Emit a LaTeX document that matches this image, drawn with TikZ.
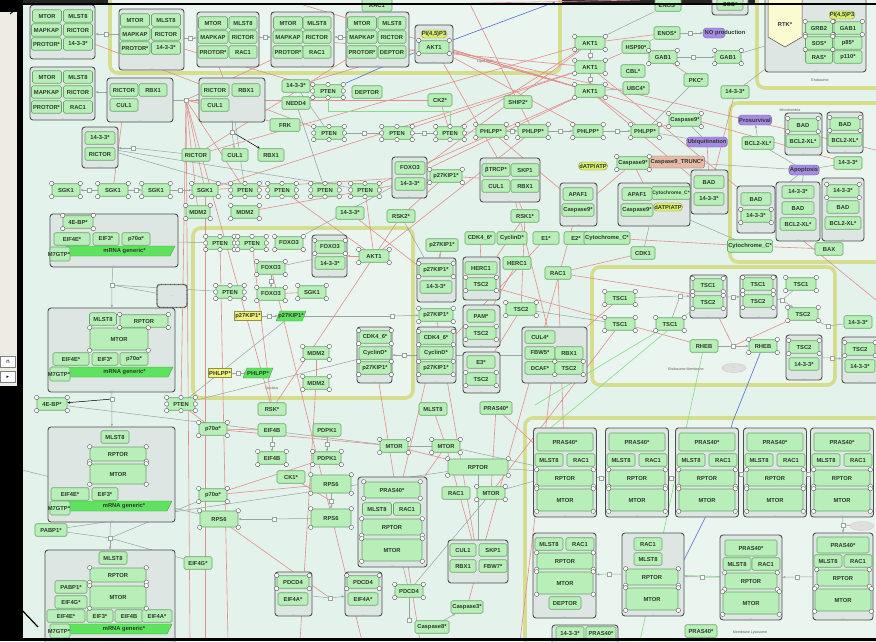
\documentclass[tikz,border=0pt]{standalone}
\usepackage{fontspec}
\usetikzlibrary{arrows.meta,shapes.geometric}
\newfontfamily\lsans{Liberation Sans}
\newfontfamily\dejavu{DejaVu Sans}
\newcommand\nfont{\lsans\bfseries\fontsize{5.8}{6.6}\selectfont}
\newcommand\smfont{\lsans\bfseries\fontsize{5}{6}\selectfont}
\newcommand\tinyf{\lsans\fontsize{3.6}{4}\selectfont}
\definecolor{bgm}{HTML}{E3F2EA}
\definecolor{cmpf}{HTML}{E9F5EE}
\definecolor{cmpd}{HTML}{D4DE8E}
\definecolor{gnf}{HTML}{B8EFB8}
\definecolor{gnd}{HTML}{6CA46C}
\definecolor{cxf}{HTML}{DDE6E2}
\definecolor{cxd}{HTML}{4F4F4F}
\definecolor{redl}{HTML}{E38E8C}
\definecolor{grl}{HTML}{9AA39F}
\definecolor{grnl}{HTML}{84DE84}
\definecolor{blul}{HTML}{4E6ED8}
\definecolor{purp}{HTML}{A78AE6}
\definecolor{ylw}{HTML}{DDEE6E}
\definecolor{ylb}{HTML}{F3F07C}
\definecolor{mrn}{HTML}{5DE35D}
\definecolor{salm}{HTML}{E6B9A8}
\definecolor{txtc}{HTML}{2C382C}
\definecolor{strip}{HTML}{EEEBE2}
\pgfdeclarelayer{bg}
\pgfdeclarelayer{edges}
\pgfsetlayers{bg,edges,main}
\tikzset{
 gnode/.style={draw=gnd,fill=gnf,rounded corners=1.5pt,line width=0.6pt,minimum height=12.5pt,inner sep=0.8pt,font=\nfont,text=txtc},
 txtn/.style={font=\nfont,text=txtc,inner sep=0.5pt},
 dotl/.style={anchor=south,inner sep=0.5pt,font=\tinyf,text=gray},
 cplxb/.style={draw=cxd,fill=cxf,line width=0.9pt,rounded corners=3pt,inner sep=0pt},
 cplx/.style={cplxb,label={[dotl]south:...}},
 comp/.style={draw=cmpd,fill=cmpf,line width=3.6pt,rounded corners=8pt,inner sep=0pt},
 clab/.style={font=\tinyf,text=gray!70!black,inner sep=0.5pt},
 proc/.style={fill=purp,draw=purp!70!black,line width=0.4pt,rounded corners=3.5pt,font=\nfont,text=txtc,inner sep=1pt,minimum height=10pt},
 yell/.style={fill=ylw,draw=ylw!60!black,line width=0.3pt,rounded corners=3.5pt,font=\nfont,text=txtc,inner sep=0.6pt,minimum height=8pt},
 ybox/.style={fill=ylb,draw=ylb!60!black,line width=0.3pt,font=\nfont,text=txtc,inner sep=0.8pt,minimum height=9pt},
 salmb/.style={fill=salm,draw=salm!60!black,line width=0.4pt,rounded corners=1.5pt,font=\nfont,text=txtc,inner sep=1pt,minimum height=12pt},
 dotel/.style={ellipse,fill=gray!25,draw=gray!40,minimum width=24pt,minimum height=9pt,inner sep=0pt,font=\tinyf,text=gray},
 dotbox/.style={draw=cxd,fill=cxf,line width=1.3pt,dash pattern=on 0.8pt off 0.5pt,rounded corners=3pt,font=\tinyf,text=gray},
 psq/.style={draw=grl,fill=white,line width=0.4pt,minimum size=4pt,inner sep=0pt},
 svc/.style={draw=gray!60!black,fill=white,line width=0.35pt},
 rl/.style={draw=redl,line width=0.6pt},
 gl/.style={draw=grl,line width=0.5pt},
 grn/.style={draw=grnl,line width=0.6pt},
 blu/.style={draw=blul,line width=0.6pt},
 >={Stealth[length=3pt,width=2.4pt]},
}
\newcommand\gn[5]{\node[gnode,minimum width=#4pt] (#1) at (#2,#3) {#5};}
\newcommand\gh[6]{\node[gnode,minimum width=#4pt,minimum height=#5pt] (#1) at (#2,#3) {#6};}
\newcommand\cpx[5]{\node[cplx,minimum width={(#4-#2)*1pt},minimum height={(#5-#3)*1pt}] (#1) at ({(#2+#4)/2},{(#3+#5)/2}) {};}
\newcommand\cpxn[5]{\node[cplxb,minimum width={(#4-#2)*1pt},minimum height={(#5-#3)*1pt}] (#1) at ({(#2+#4)/2},{(#3+#5)/2}) {};}
\newcommand\cmpt[5]{\node[comp,minimum width={(#4-#2)*1pt},minimum height={(#5-#3)*1pt}] (#1) at ({(#2+#4)/2},{(#3+#5)/2}) {};}
\newcommand\mrna[4]{\fill[mrn,draw=mrn!70!black,line width=0.3pt] (#2,#4-5) -- (#3,#4-5) -- (#3-5,#4+5) -- (#2,#4+5) -- cycle;
 \node[txtn] (#1) at ({(#2+#3)/2+4},#4) {mRNA generic*};}
\newcommand\mgtp[3]{\node[gnode,minimum width=20pt,minimum height=14pt] (#1) at (#2,#3) {};\node[txtn] (#1t) at (#2-1,#3) {M7GTP*};}
\newcommand\pgram[4]{\fill[mrn,draw=mrn!70!black,line width=0.3pt] (#2-15,#3+5) -- (#2+11,#3+5) -- (#2+15,#3-5) -- (#2-11,#3-5) -- cycle;
 \node[txtn] (#1) at (#2,#3) {#4};}
\newcommand\lyA[2]{\node[cplx,minimum width=63pt,minimum height=89pt] (#1) at (#2,472.5) {};
 \gh{#1a}{#2}{442}{56}{18}{PRAS40*}\gn{#1b}{#2-16}{460}{28}{MLST8}\gn{#1c}{#2+16}{460}{28}{RAC1}\gh{#1d}{#2}{478}{56}{16}{RPTOR}\gh{#1e}{#2}{500}{56}{22}{MTOR}}
\begin{document}
\begin{tikzpicture}[x=1pt,y=-1pt]
\useasboundingbox (0,0) rectangle (876,641);
\begin{pgfonlayer}{bg}
\fill[black] (0,0) rectangle (22,641);
\fill[strip] (0,12) rectangle (17,386);
\fill[bgm] (22,4) rectangle (876,641);
\fill[black!85] (22,0) rectangle (876,4);
\cmpt{lipid}{110}{-12}{560}{73}
\cmpt{endo}{757}{-12}{886}{88}
\cmpt{mito}{730}{103}{886}{262}
\cmpt{nucl}{193}{228}{413}{398}
\cmpt{endm}{592}{267}{835}{385}
\cmpt{lyso}{525}{418}{886}{652}
\node[clab] (lb1) at (485,62) {Lipid Raft};
\node[clab] (lb2) at (820,80) {Endosome};
\node[clab] (lb3) at (790,110) {Mitochondria};
\node[clab] (lb4) at (272,388) {Nucleus};
\node[clab] (lb5) at (686,369) {Endosome Membrane};
\node[clab] (lb6) at (750,633) {Membrane Lysosome};
\end{pgfonlayer}
% left strip
\node[draw=gray,fill=white,minimum width=15pt,minimum height=11pt,inner sep=0pt,font=\lsans\fontsize{6}{6}\selectfont] (lsn) at (8,362) {n};
\node[draw=gray,fill=white,minimum width=15pt,minimum height=11pt,inner sep=0pt,font=\dejavu\fontsize{5}{5}\selectfont] (lsa) at (8,377) {▸};
% ===== top row complexes
\cpx{kA}{30}{5}{95}{59}
\gn{A1}{47}{16}{29}{MTOR}\gn{A2}{78}{16}{29}{MLST8}\gn{A3}{46.5}{30}{30}{MAPKAP}\gn{A4}{78}{30}{29}{RICTOR}\gn{A5}{46.5}{44}{30}{PROTOR*}\gn{A6}{78}{44}{29}{14-3-3*}
\cpx{kB}{119}{9}{184}{70}
\gn{B1}{135}{20}{29}{MTOR}\gn{B2}{166}{20}{29}{MLST8}\gn{B3}{135}{34}{30}{MAPKAP}\gn{B4}{166}{34}{29}{RICTOR}\gn{B5}{135}{48}{30}{PROTOR*}\gn{B6}{166}{48}{29}{14-3-3*}
\cpx{kC}{197}{12}{259}{67}
\gn{C1}{213}{23}{29}{MTOR}\gn{C2}{243}{23}{28}{MLST8}\gn{C3}{213}{37}{30}{MAPKAP}\gn{C4}{243}{37}{28}{RICTOR}\gn{C5}{213}{52}{30}{PROTOR*}\gn{C6}{243}{52}{28}{RAC1}
\cpx{kD}{271}{12}{334}{67}
\gn{D1}{288}{23}{29}{MTOR}\gn{D2}{317}{23}{28}{MLST8}\gn{D3}{288}{37}{30}{MAPKAP}\gn{D4}{317}{37}{28}{RICTOR}\gn{D5}{288}{52}{30}{PROTOR*}\gn{D6}{317}{52}{28}{RAC1}
\cpx{kE}{346}{12}{409}{67}
\gn{E1}{362}{23}{29}{MTOR}\gn{E2}{392}{23}{28}{MLST8}\gn{E3}{362}{37}{30}{MAPKAP}\gn{E4}{392}{37}{28}{RICTOR}\gn{E5}{362}{52}{30}{PROTOR*}\gn{E6}{392}{52}{28}{DEPTOR}
\gn{racT}{377}{5}{30}{RAC1}
\cpx{kF}{415}{25}{453}{63}
\node[yell] (pipF) at (434,34) {PI(4,5)P3};
\gn{akF}{434}{47}{30}{AKT1}
% ===== right top
\gn{akt1a}{590}{43}{30}{AKT1}\gn{akt1b}{590}{67}{30}{AKT1}\gn{akt1c}{590}{91}{30}{AKT1}
\gn{hsp}{636}{47}{28}{HSP90*}\gn{cbl}{633}{71}{24}{CBL*}\gn{ubc}{636}{88}{26}{UBC4*}
\gn{enos0}{668}{5}{26}{ENOS*}
\cpx{kSOS}{712}{-8}{748}{15}\gn{sos0}{730}{4}{26}{SOS*}
\gn{enos}{667}{33}{26}{ENOS*}
\node[proc,minimum width=22pt] (nopb) at (714,33) {};
\node[txtn] (nopt) at (725,33) {NO production};
\gn{gab1a}{663}{57}{28}{GAB1}\gn{gab1b}{728}{57}{26}{GAB1}\gn{pkc}{696}{80}{24}{PKC*}\gn{t33a}{735}{92}{28}{14-3-3*}
% endosome
\cpx{kP}{765}{-10}{866}{72}
\filldraw[fill=ylb!35!white,draw=gray!60!black,line width=0.5pt] (768,-6) -- (802,-6) -- (802,37) -- (785,47) -- (768,37) -- cycle;
\node[txtn] (rtk) at (785,24) {RTK*};
\gn{grb2}{819}{28}{27}{GRB2}\gn{gab1c}{848}{28}{28}{GAB1}\gn{sosP}{819}{43}{27}{SOS*}\gn{p85}{848}{43}{28}{p85*}\gn{ras}{819}{57}{27}{RAS*}\gn{p110}{848}{57}{28}{p110*}
\node[yell] (pipP) at (842,15) {PI(4,5)P3};
% mitochondria
\node[proc] (prosv) at (755,120) {Prosurvival};
\gn{bclA}{758}{143}{32}{BCL2-XL*}
\cpx{kQ}{785}{113}{822}{155}\gn{badQ}{803}{125}{30}{BAD}\gn{bclQ}{803}{141}{34}{BCL2-XL*}
\cpx{kR}{827}{112}{863}{153}\gn{badR}{845}{124}{30}{BAD}\gn{bclR}{845}{140}{34}{BCL2-XL*}
\gn{t33m}{848}{163}{28}{14-3-3*}
\node[proc] (apop) at (804,170) {Apoptosis};
\cpx{kS}{737}{186}{775}{233}\gn{badS}{756}{199}{30}{BAD}\gn{t33S}{756}{216}{30}{14-3-3*}
\cpx{kT}{776}{182}{820}{241}\gn{t33T}{798}{192}{32}{14-3-3*}\gn{badT}{798}{208}{32}{BAD}\gn{bclT}{798}{224}{36}{BCL2-XL*}
\cpx{kU}{822}{178}{864}{241}\gn{t33U}{843}{191}{32}{14-3-3*}\gn{badU}{843}{207}{32}{BAD}\gn{bclU}{843}{223}{36}{BCL2-XL*}
\gn{cytm}{750}{246}{44}{Cytochrome\_C*}\gn{bax}{829}{249}{28}{BAX}
% middle right
\node[proc] (ubiq) at (707,142) {Ubiquitination};
\gn{casp9a}{685}{120}{32}{Caspase9*}
\node[salmb,minimum width=36pt] (c9tr) at (677,162) {Caspase9\_TRUNC*};
\gn{casp9b}{633}{163}{32}{Caspase9*}
\node[yell] (datp1) at (593,166) {dATP/ATP};
\cpx{kN}{560}{183}{597}{226}\gn{apafN}{578}{194}{30}{APAF1}\gn{c9N}{578}{210}{32}{Caspase9*}
\cpx{kO}{618}{183}{690}{226}\node[gnode,font=\smfont,minimum width=36pt] (cytO) at (671,193) {Cytochrome\_C*};
\gn{apafO}{637}{194}{30}{APAF1}\gn{c9O}{637}{210}{32}{Caspase9*}
\node[yell] (datp2) at (668,207) {dATP/ATP};
\cpx{kM}{691}{170}{728}{214}\gn{badM}{709}{182}{30}{BAD}\gn{t33M}{709}{199}{30}{14-3-3*}
% ===== left second row
\cpx{kG}{30}{67}{95}{120}
\gn{G1}{47}{77}{29}{MTOR}\gn{G2}{78}{77}{29}{MLST8}\gn{G3}{46.5}{92}{30}{MAPKAP}\gn{G4}{78}{92}{29}{RICTOR}\gn{G5}{46.5}{107}{30}{PROTOR*}\gn{G6}{78}{107}{29}{RAC1}
\cpx{kH}{107}{78}{173}{122}\gn{H1}{124}{90}{28}{RICTOR}\gn{H2}{153}{90}{28}{RBX1}\gn{H3}{124}{105}{28}{CUL1}
\cpx{kI}{199}{78}{265}{122}\gn{I1}{215}{90}{28}{RICTOR}\gn{I2}{246}{90}{28}{RBX1}\gn{I3}{215}{105}{28}{CUL1}
\cpx{kJ}{82}{127}{118}{168}\gn{J1}{100}{138}{30}{14-3-3*}\gn{J2}{100}{154}{30}{RICTOR}
\gn{ric5}{196}{155}{28}{RICTOR}
\gn{sgk1}{66}{190}{28}{SGK1}\gn{sgk2}{113}{190}{30}{SGK1}\gn{sgk3}{156}{190}{28}{SGK1}\gn{sgk4}{205}{190}{26}{SGK1}
\gn{mdm2a}{198}{212}{24}{MDM2}\gn{mdm2b}{245}{212}{28}{MDM2}
% ===== middle top
\gn{t33b}{296}{86}{28}{14-3-3*}\gn{pten1}{328}{91}{30}{PTEN}\gn{deptor}{367}{92}{30}{DEPTOR}
\gn{nedd4}{296}{103}{28}{NEDD4}\gn{frk}{285}{125}{30}{FRK}\gn{cul1b}{235}{155}{26}{CUL1}\gn{rbx1b}{271}{155}{26}{RBX1}
\gn{pten2}{329}{133}{30}{PTEN}\gn{pten3}{397}{133}{30}{PTEN}\gn{pten4}{450}{133}{28}{PTEN}
\gn{pten5}{245}{190}{28}{PTEN}\gn{pten6}{282}{190}{28}{PTEN}\gn{pten7}{325}{190}{28}{PTEN}\gn{pten8}{365}{190}{28}{PTEN}
\cpx{kK}{392}{157}{427}{198}\gn{foxK}{410}{168}{30}{FOXO3}\gn{t33K}{410}{184}{30}{14-3-3*}
\gn{t33c}{350}{213}{28}{14-3-3*}
\gn{ck2}{440}{100}{24}{CK2*}\gn{ship2}{518}{102}{28}{SHIP2*}
\gn{phl1}{491}{131}{30}{PHLPP*}\gn{phl2}{533}{131}{30}{PHLPP*}\gn{phl3}{588}{131}{30}{PHLPP*}\gn{phl4}{645}{131}{28}{PHLPP*}
\gn{p27a}{446}{176}{32}{p27KIP1*}
\cpx{kL}{480}{158}{540}{202}\gn{btrcp}{496}{170}{28}{βTRCP*}\gn{skp1a}{525}{170}{28}{SKP1}\gn{cul1c}{496}{186}{28}{CUL1}\gn{rbx1c}{525}{186}{28}{RBX1}
\gn{rsk2}{401}{216}{28}{RSK2*}\gn{rsk1}{525}{216}{28}{RSK1*}
\gn{cdk46a}{480}{238}{30}{CDK4\_6*}\gn{cycDa}{512}{238}{30}{CyclinD*}\gn{e1n}{546}{238}{26}{E1*}\gn{e2n}{576}{238}{24}{E2*}\gn{cytE}{607}{238}{46}{Cytochrome\_C*}
\gn{cdk1}{643}{253}{24}{CDK1}\gn{p27b}{442}{245}{32}{p27KIP1*}
% ===== left middle
\cpx{kV}{50}{214}{178}{267}
\gn{ebp1}{78}{222}{30}{4E-BP*}\gn{eif4eV}{72}{239}{36}{EIF4E*}\gn{eif3V}{106}{239}{26}{EIF3*}\gn{p70V}{136}{239}{28}{p70α*}
\mrna{mrV}{66}{175}{251}\mgtp{m7V}{60}{254}
\node[dotbox,minimum width=30pt,minimum height=23pt] (cdots) at (172,296) {...};
\cpx{kC9}{48}{308}{175}{392}
\gn{mlC9}{103}{319}{27}{MLST8}\gn{rpC9}{144}{321}{48}{RPTOR}\gh{mtC9}{119}{339}{58}{22}{MTOR}
\gn{eeC9}{71}{359}{36}{EIF4E*}\gn{e3C9}{105}{359}{26}{EIF3*}\gn{p7C9}{134}{359}{28}{p70α*}
\mrna{mrC9}{68}{173}{372}\mgtp{m7C9}{60}{374}
\gn{ebp2}{52}{404}{30}{4E-BP*}\gn{pten9}{181}{404}{28}{PTEN}
\cpx{kC14}{48}{427}{175}{522}
\gn{mlC14}{115}{437}{28}{MLST8}\gh{rpC14}{118}{454}{56}{14}{RPTOR}\gh{mtC14}{118}{474}{56}{20}{MTOR}
\gn{eeC14}{70}{494}{38}{EIF4E*}\gn{e3C14}{105}{494}{26}{EIF3*}
\mrna{mrC14}{68}{172}{506}\mgtp{m7C14}{60}{508}
\gn{pabp1}{51}{530}{32}{PABP1*}\gn{eif4g}{198}{563}{28}{EIF4G*}
\cpxn{kC15}{45}{550}{175}{648}
\gn{mlC15}{113}{558}{28}{MLST8}\gh{rpC15}{118}{575}{56}{14}{RPTOR}\gh{mtC15}{118}{597}{56}{22}{MTOR}
\gn{paC15}{71}{587}{32}{PABP1*}\gn{egC15}{71}{602}{32}{EIF4G*}
\gn{eeC15}{66}{616}{38}{EIF4E*}\gn{e3C15}{100}{616}{26}{EIF3*}\gn{ebC15}{129}{616}{28}{EIF4B}\gn{eaC15}{157}{616}{30}{EIF4A*}
\mrna{mrC15}{68}{172}{629}\mgtp{m7C15}{60}{631}
% ===== nucleus
\gn{pten10}{220}{243}{28}{PTEN}\gn{pten11}{252}{243}{28}{PTEN}\gn{foxN1}{289}{243}{28}{FOXO3}
\cpx{kW}{312}{235}{347}{277}\gn{foxW}{330}{247}{30}{FOXO3}\gn{t33W}{330}{263}{30}{14-3-3*}
\gn{akN}{374}{256}{30}{AKT1}\gn{foxN2}{271}{268}{28}{FOXO3}
\gn{pten12}{230}{292}{28}{PTEN}\gn{foxN3}{271}{294}{28}{FOXO3}\gn{sgkN}{312}{292}{28}{SGK1}
\node[ybox] (p27y) at (248,316) {p27KIP1*};
\pgram{p27g}{291}{316}{p27KIP1*}
\gn{mdmN1}{316}{353}{26}{MDM2}\gn{mdmN2}{316}{383}{26}{MDM2}
\cpx{kX}{357}{327}{392}{383}\gn{cdkX}{375}{337}{32}{CDK4\_6*}\gn{cycX}{375}{353}{32}{CyclinD*}\gn{p27X}{375}{368}{32}{p27KIP1*}
\node[ybox] (phlY) at (220,373) {PHLPP*};
\pgram{phlG}{258}{373}{PHLPP*}
% ===== right of nucleus
\cpx{kY}{417}{258}{456}{302}\gn{p27Y}{436}{270}{34}{p27KIP1*}\gn{t33Y}{436}{287}{32}{14-3-3*}
\gn{p27c}{436}{315}{34}{p27KIP1*}
\cpx{kZ}{417}{327}{456}{383}\gn{cdkZ}{436}{338}{34}{CDK4\_6*}\gn{cycZ}{436}{353}{34}{CyclinD*}\gn{p27Z}{436}{368}{34}{p27KIP1*}
\gn{mlst8N}{433}{409}{28}{MLST8}
\cpx{kH1}{463}{257}{500}{300}\gn{herc1a}{481}{268}{32}{HERC1}\gn{tsc2a}{481}{284}{30}{TSC2}
\gn{herc1b}{517}{263}{28}{HERC1}\gn{rac1c}{558}{273}{26}{RAC1}
\cpx{kPam}{463}{305}{500}{347}\gn{pam}{481}{316}{28}{PAM*}\gn{tsc2b}{481}{333}{30}{TSC2}
\gn{tsc2c}{521}{309}{30}{TSC2}
\cpx{kE3}{463}{352}{500}{393}\gn{e3n}{481}{362}{28}{E3*}\gn{tsc2d}{481}{379}{30}{TSC2}
\cpx{kCul4}{522}{327}{587}{383}\gn{cul4}{540}{337}{30}{CUL4*}\gn{fbw5}{540}{353}{30}{FBW5*}\gn{rbx1d}{569}{353}{28}{RBX1}\gn{dcaf}{540}{368}{30}{DCAF*}\gn{tsc2e}{569}{368}{28}{TSC2}
\gn{pras40a}{496}{408}{32}{PRAS40*}
% ===== endosome membrane
\gn{tsc1a}{620}{298}{30}{TSC1}\gn{tsc1b}{620}{324}{30}{TSC1}\gn{tsc1c}{670}{324}{28}{TSC1}
\cpx{kT5}{690}{275}{727}{318}\gn{tsc1d}{708}{285}{30}{TSC1}\gn{tsc2f}{708}{302}{30}{TSC2}
\cpx{kT6}{740}{275}{777}{318}\gn{tsc1e}{758}{284}{30}{TSC1}\gn{tsc2g}{758}{301}{30}{TSC2}
\gn{tsc1f}{801}{284}{30}{TSC1}\gn{tsc2h}{803}{314}{30}{TSC2}
\gn{rheb1}{704}{346}{28}{RHEB}\gn{rheb2}{763}{346}{28}{RHEB}
\cpx{kT7}{786}{335}{822}{380}\gn{tsc2i}{804}{347}{30}{TSC2}\gn{t33T7}{804}{364}{30}{14-3-3*}
\node[dotel] (dotsA) at (734,368) {...};
\gn{t33r}{858}{322}{28}{14-3-3*}
\cpx{kT8}{842}{337}{879}{383}\gn{tsc2j}{860}{349}{30}{TSC2}\gn{t33T8}{860}{366}{30}{14-3-3*}
% ===== lower middle
\gn{rskN}{272}{409}{28}{RSK*}
\gn{p70a}{213}{429}{28}{p70α*}\gn{eif4b1}{272}{430}{28}{EIF4B}\gn{pdpk1a}{327}{430}{28}{PDPK1}
\gn{eif4b2}{272}{458}{28}{EIF4B}\gn{pdpk1b}{327}{458}{28}{PDPK1}\gn{ck1}{291}{477}{28}{CK1*}
\gh{rps6a}{331}{484}{40}{18}{RPS6}\gh{rps6b}{331}{518}{40}{18}{RPS6}
\gn{p70b}{213}{495}{28}{p70α*}\gh{rps6c}{219}{519}{38}{16}{RPS6}
\cpx{kC10}{358}{477}{427}{567}
\gh{P10a}{392}{490}{56}{16}{PRAS40*}\gn{P10b}{377}{509}{29}{MLST8}\gn{P10c}{407}{509}{27}{RAC1}\gh{P10d}{392}{527}{60}{16}{RPTOR}\gh{P10e}{392}{550}{60}{22}{MTOR}
\gn{mtorL1}{394}{446}{28}{MTOR}\gn{mtorL2}{446}{446}{28}{MTOR}
\gh{rptorL}{478}{467}{60}{16}{RPTOR}\gn{rac1L}{456}{493}{28}{RAC1}\gn{mtorL3}{491}{493}{28}{MTOR}
\cpx{kC11}{448}{540}{508}{583}\gn{cul1d}{463}{550}{26}{CUL1}\gn{skp1b}{493}{550}{28}{SKP1}\gn{rbx1e}{463}{566}{26}{RBX1}\gn{fbw7}{493}{566}{28}{FBW7*}
\cpx{kC12}{275}{572}{312}{616}\gn{pd12}{293}{582}{32}{PDCD4}\gn{ea12}{293}{599}{30}{EIF4A*}
\cpx{kC13}{345}{572}{382}{616}\gn{pd13}{363}{582}{32}{PDCD4}\gn{ea13}{363}{599}{30}{EIF4A*}
\gn{pdcd4}{409}{591}{28}{PDCD4}
\gn{casp3}{467}{607}{32}{Caspase3*}\gn{casp8}{432}{627}{34}{Caspase8*}
% ===== lysosome
\lyA{L1}{565}\lyA{L2}{637}\lyA{L3}{707}\lyA{L4}{775}\lyA{L5}{842}
\cpx{L6}{533}{533}{596}{618}\gn{L6b}{549}{544}{28}{MLST8}\gn{L6c}{580}{544}{28}{RAC1}\gh{L6d}{565}{561}{56}{16}{RPTOR}\gh{L6e}{565}{583}{56}{22}{MTOR}\gn{L6f}{565}{603}{32}{DEPTOR}
\cpx{L7}{622}{533}{684}{616}\gn{L7a}{648}{544}{28}{RAC1}\gn{L7b}{648}{559}{28}{MLST8}\gh{L7c}{652}{577}{52}{16}{RPTOR}\gh{L7d}{652}{599}{52}{22}{MTOR}
\cpx{L8}{720}{535}{782}{620}\gh{L8a}{751}{548}{52}{16}{PRAS40*}\gn{L8b}{737}{564}{28}{MLST8}\gn{L8c}{766}{564}{28}{RAC1}\gh{L8d}{751}{581}{52}{16}{RPTOR}\gh{L8e}{751}{603}{56}{22}{MTOR}
\cpx{L9}{813}{533}{873}{620}\gh{L9a}{843}{545}{52}{16}{PRAS40*}\gn{L9b}{828}{561}{28}{MLST8}\gn{L9c}{858}{561}{28}{RAC1}\gh{L9d}{843}{578}{52}{16}{RPTOR}\gh{L9e}{843}{600}{56}{22}{MTOR}
\cpxn{kBot}{552}{625}{618}{650}\gn{t33bot}{570}{633}{28}{14-3-3*}\gn{prasbot}{601}{633}{30}{PRAS40*}
\gn{pras40b}{701}{631}{32}{PRAS40*}
\node[dotel] (dotsB) at (862,526) {...};
% ===== process squares
\foreach \nm/\px/\py in {qA/106/34,qB/190/38,qC/265/37,qD/340/37,qH/186/100,qG/133/148,qS1/89/190,qS2/136/190,qS3/180/190,qI/232/132,
 qP1/364/133,qP2/424/133,qP3/512/131,qP4/560/131,qP5/617/131,qAk1/590/55,qAk2/590/79,qGb/693/57,qNO/690/33,
 qV/112/285,qV2/112/399,qV3/110/538,qN1/269/316,qN2/238/373,qN3/271/281,qX/404/355,qZ2/392/316,
 qE/272/444,qPd/327/444,qR/331/501,qR2/274/519,qPc/330/598,qPd2/409/620,
 qT1/680/296,qT2/733/297,qT3/782/300,qRh/733/346,qT4/832/358,qT5/828/326,
 qL1/601/478,qL2/671/478,qL3/741/474,qL4/808/474,qL5/843/525,qL6/797/577,qL7/702/577,qL8/609/574}
 {\node[psq] (\nm) at (\px,\py) {};}
% free ends
\coordinate (xb1) at (190,641);\coordinate (xb2) at (228,641);\coordinate (xb3) at (362,641);\coordinate (xb4) at (520,641);
\coordinate (xr1) at (876,150);\coordinate (xr2) at (876,300);\coordinate (xt2) at (555,2);\coordinate (xt3) at (640,0);
\coordinate (xg1) at (450,111);\coordinate (xg2) at (548,430);\coordinate (xg3) at (640,641);\coordinate (xg4) at (535,405);
\coordinate (xbl1) at (733,421);\coordinate (xbl2) at (705,518);\coordinate (xbl3) at (664,600);
\coordinate (xd1) at (0,587);\coordinate (xd2) at (38,627);\coordinate (xd3) at (10,14);\coordinate (xd4) at (22,4);
\coordinate (xl1) at (22,470);\coordinate (xl2) at (300,641);\coordinate (xb5) at (205,641);\coordinate (xb6) at (420,641);
\coordinate (xt4) at (300,4);\coordinate (xt5) at (470,4);
% ===== state variable circles
\foreach \n in {sgk1,sgk2,sgk3,sgk4,akt1a,akt1b,akt1c,gab1a,gab1b,phl1,phl2,phl3,phl4,mdm2a,mdm2b,ebp2,foxN1,akN,sgkN,mdmN1,mdmN2,p27a,
 tsc2c,tsc1a,tsc1b,tsc1c,tsc1f,tsc2h,rheb2,rps6a,rps6b,rps6c,mtorL1,mtorL2,mtorL3,rptorL,pdcd4,casp9a,casp9b,pdpk1b,eif4b2,p70b,p70a,
 L1d,L1e,L2d,L2e,L3d,L3e,L4d,L4e,L5d,L5e,L6d,L6e,L7c,L7d,L8d,L8e,L9d,L9e,rpC9,mtC9,rpC14,mtC14,rpC15,mtC15,P10a,P10d,P10e,
 tsc1d,tsc1e,tsc2f,tsc2g,tsc2i,tsc2j,tsc2a,tsc2b,tsc2d,tsc2e,ebp1,cdkX,p27X,foxW,akF,gab1c,grb2,sosP,badQ,badR,t33U,t33S,pd12,pd13,foxN2,foxN3,p27Y,cdkZ,p27Z,p27c}
 {\foreach \a in {north west,north east,south west,south east}{\draw[svc] (\n.\a) circle (2.2pt);}}
\foreach \n in {pten1,pten2,pten3,pten4,pten5,pten6,pten7,pten8,pten9,pten10,pten11,pten12}
 {\foreach \a in {north west,north,north east,south west,south,south east,west,east}{\draw[svc] (\n.\a) circle (2.2pt);}}
% ===== connectors
\begin{pgfonlayer}{edges}
% reactions (grey)
\draw[gl] (kB.west|-qA) -- (qA); \draw[gl,->] (qA) -- (kA.east|-qA);
\draw[gl] (kB.east|-qB) -- (qB); \draw[gl,->] (qB) -- (kC.west|-qB);
\draw[gl] (kC.east|-qC) -- (qC); \draw[gl,->] (qC) -- (kD.west|-qC);
\draw[gl] (kE.west|-qD) -- (qD); \draw[gl,->] (qD) -- (kD.east|-qD);
\draw[gl,->] (kH.west|-G4) -- (kG.east|-G4);
\draw[gl] (kH.east|-qH) -- (qH); \draw[gl,->] (qH) -- (kI.west|-qH);
\draw[gl] (ric5) -- (qG); \draw[gl,->] (qG) -- (kJ.east|-qG);
\draw[gl] (sgk2) -- (qS1); \draw[gl,->] (qS1) -- (sgk1);
\draw[gl] (sgk2) -- (qS2); \draw[gl,->] (qS2) -- (sgk3);
\draw[gl] (sgk3) -- (qS3); \draw[gl,->] (qS3) -- (sgk4);
\draw[gl] (kI.south-|qI) -- (qI); \draw[gl,->] (qI) -- (cul1b); \draw[black,line width=0.5pt,->] (qI) -- (rbx1b);
\draw[gl] (pten2) -- (qP1); \draw[gl,->] (qP1) -- (pten3);
\draw[gl] (pten3) -- (qP2); \draw[gl,->] (qP2) -- (pten4);
\draw[gl] (pten4) -- (phl1);
\draw[gl] (phl1) -- (qP3); \draw[gl,->] (qP3) -- (phl2);
\draw[gl] (phl2) -- (qP4); \draw[gl,->] (qP4) -- (phl3);
\draw[gl] (phl3) -- (qP5); \draw[gl,->] (qP5) -- (phl4);
\draw[gl] (akt1a) -- (qAk1); \draw[gl,->] (qAk1) -- (akt1b);
\draw[gl] (akt1b) -- (qAk2); \draw[gl,->] (qAk2) -- (akt1c);
\draw[gl] (gab1a) -- (qGb); \draw[gl,->] (qGb) -- (gab1b);
\draw[gl] (enos) -- (qNO); \draw[gl,->] (qNO) -- (nopb);
\draw[gl] (kV) -- (qV); \draw[gl,->] (qV) -- (kC9); \draw[gl] (cdots) -- (qV);
\draw[gl] (kC9) -- (qV2); \draw[gl,->] (qV2) -- (kC14); \draw[black,line width=0.5pt,->] (qV2) -- (ebp2);
\draw[gl] (kC14) -- (qV3); \draw[gl,->] (qV3) -- (kC15); \draw[gl] (pabp1) -- (qV3); \draw[gl] (eif4g) -- (qV3);
\draw[gl] (p27y) -- (qN1); \draw[gl,->] (qN1) -- (p27g);
\draw[gl] (phlY) -- (qN2); \draw[gl,->] (qN2) -- (phlG);
\draw[gl] (foxN2) -- (qN3); \draw[gl,->] (qN3) -- (foxN3);
\draw[gl] (kZ) -- (qX); \draw[gl,->] (qX) -- (kX);
\draw[gl] (p27g) -- (qZ2); \draw[gl,->] (qZ2) -- (p27c);
\draw[gl] (eif4b1) -- (qE); \draw[gl,->] (qE) -- (eif4b2);
\draw[gl] (pdpk1a) -- (qPd); \draw[gl,->] (qPd) -- (pdpk1b);
\draw[gl] (rps6a) -- (qR); \draw[gl,->] (qR) -- (rps6b);
\draw[gl] (rps6b) -- (qR2); \draw[gl,->] (qR2) -- (rps6c);
\draw[gl] (kC12) -- (qPc); \draw[gl,->] (qPc) -- (kC13);
\draw[gl] (pdcd4) -- (qPd2); \draw[gl,->] (casp8) -- (casp3);
\draw[gl] (tsc1a) -- (qT1); \draw[gl] (tsc1c) -- (qT1); \draw[gl,->] (qT1) -- (kT5);
\draw[gl] (kT5) -- (qT2); \draw[gl,->] (qT2) -- (kT6);
\draw[gl] (kT6) -- (qT3); \draw[gl] (tsc1f) -- (qT3); \draw[gl,->] (qT3) -- (tsc2h);
\draw[gl] (rheb1) -- (qRh); \draw[gl,->] (qRh) -- (rheb2);
\draw[gl] (kT7) -- (qT4); \draw[gl,->] (qT4) -- (kT8);
\draw[gl] (t33r) -- (qT5); \draw[gl,->] (qT5) -- (tsc2h);
\draw[gl] (L1) -- (qL1); \draw[gl,->] (qL1) -- (L2);
\draw[gl] (L2) -- (qL2); \draw[gl,->] (qL2) -- (L3);
\draw[gl] (L3) -- (qL3); \draw[gl,->] (qL3) -- (L4);
\draw[gl] (L4) -- (qL4); \draw[gl,->] (qL4) -- (L5);
\draw[gl] (L5) -- (qL5); \draw[gl,->] (qL5) -- (L9);
\draw[gl] (L9) -- (qL6); \draw[gl,->] (qL6) -- (L8);
\draw[gl] (L8) -- (qL7); \draw[gl,->] (qL7) -- (L7);
\draw[gl] (L7) -- (qL8); \draw[gl,->] (qL8) -- (L6);
% other grey
\draw[gl] (qV) -- (pten12); \draw[gl] (qV3) -- (p70b); \draw[gl] (kK) -- (foxN1); \draw[gl] (kW) -- (foxN2);
\draw[gl] (mtorL2) -- (L1); \draw[gl] (rptorL) -- (L1); \draw[gl] (mtorL3) -- (L1); \draw[gl] (kC11) -- (rptorL);
\draw[gl] (t33a) -- (kP); \draw[gl] (gab1b) -- (kP); \draw[gl] (ubiq) -- (phl4); \draw[gl] (casp9a) -- (ubiq);
\draw[gl,->] (bclA) -- (prosv); \draw[gl] (bclA) -- (apop); \draw[gl] (t33m) -- (apop); \draw[gl] (apop) -- (kS); \draw[gl] (apop) -- (kT);
\draw[gl] (cdk1) -- (kO); \draw[gl] (c9tr) -- (apop); \draw[gl] (akt1a) -- (enos0); \draw[gl] (hsp) -- (enos); \draw[gl] (akt1c) -- (ubc);
\draw[gl] (pten5) -- (kI); \draw[gl] (pten9) -- (p27g); \draw[gl] (pabp1) -- (rptorL); \draw[gl] (xl1) -- (rps6c);
\draw[gl] (kJ) -- (pten5); \draw[gl] (mtorL1) -- (mtorL2); \draw[gl] (pdcd4) -- (mtorL3); \draw[gl] (kC10) -- (pdcd4);
\draw[gl] (rsk2) -- (kY); \draw[gl] (p27b) -- (p27Y); \draw[gl] (kCul4) -- (kZ); \draw[gl] (tsc2c) -- (tsc1b);
\draw[gl] (cytm) -- (kO); \draw[gl] (pkc) -- (phl4); \draw[gl] (t33b) -- (pten2); \draw[gl] (nedd4) -- (pten7);
\draw[gl] (kJ) -- (pten8); \draw[gl] (pten9) -- (kX); \draw[gl] (ebp2) -- (mtorL1); \draw[gl] (kV) -- (pten10);
% red
\draw[rl] (qH) -- (mdm2a); \draw[rl] (qH) -- (sgk4); \draw[rl] (qH) -- (pten5); \draw[rl] (qH) -- (ck2); \draw[rl] (qH) -- (frk);
\draw[rl] (qH) -- (xb1); \draw[rl] (qH) -- (pten9); \draw[rl] (qH) -- (D5); \draw[rl] (H3) -- (sgk2);
\draw[rl] (ric5) -- (akt1a); \draw[rl] (ric5) -- (kE); \draw[rl] (akF) -- (phl3); \draw[rl] (akF) -- (akt1c); \draw[rl] (akF) -- (xr1);
\draw[rl] (akF) -- (kL); \draw[rl] (akt1a) -- (kK); \draw[rl] (akt1b) -- (pten3); \draw[rl] (akt1c) -- (phl4); \draw[rl] (ck2) -- (pten4);
\draw[rl] (ship2) -- (phl2); \draw[rl] (kL) -- (p27a); \draw[rl] (kL) -- (rsk1); \draw[rl,->] (akN) -- (kW); \draw[rl] (sgkN) -- (foxN3);
\draw[rl] (mdmN2) -- (mdmN1); \draw[rl] (e1n) -- (kZ); \draw[rl] (cdk46a) -- (kH1); \draw[rl] (rac1c) -- (kT5); \draw[rl] (tsc1a) -- (kCul4);
\draw[rl] (kT5) -- (qRh); \draw[rl] (tsc2h) -- (qRh); \draw[rl] (cytm) -- (bax); \draw[rl] (cytE) -- (cytm); \draw[rl] (kM) -- (t33a);
\draw[rl] (pkc) -- (gab1a); \draw[rl] (kD) -- (akt1b); \draw[rl] (p70a) -- (eif4b1); \draw[rl] (p70b) -- (rps6a); \draw[rl] (ck1) -- (qR);
\draw[rl] (rps6c) -- (qPc); \draw[rl] (pdpk1b) -- (p70b); \draw[rl] (mtorL1) -- (p70a); \draw[rl] (rptorL) -- (mtorL1); \draw[rl] (rsk2) -- (rskN);
\draw[rl] (casp9b) -- (kO); \draw[rl] (casp9a) -- (phl4); \draw[rl] (akt1c) -- (kM); \draw[rl] (kA) -- (pten2); \draw[rl] (hsp) -- (akt1b);
\draw[rl] (enos) -- (akt1a); \draw[rl] (tsc2c) -- (kE3); \draw[rl] (herc1b) -- (kPam); \draw[rl] (mlst8N) -- (mtorL2); \draw[rl] (pten8) -- (akN);
\draw[rl] (t33c) -- (kY); \draw[rl] (p27b) -- (kY); \draw[rl] (rsk1) -- (tsc2c); \draw[rl] (tsc1b) -- (mtorL3); \draw[rl] (pten10) -- (xb2);
\draw[rl] (foxN2) -- (xb3); \draw[rl] (kCul4) -- (xb4); \draw[rl] (C5) -- (kI); \draw[rl] (p27a) -- (rsk2); \draw[rl] (dotsB) -- (qL5);
\draw[rl] (akF) -- (t33m); \draw[rl] (kF) -- (t33b); \draw[rl] (phl1) -- (kN); \draw[rl] (sgk4) -- (kK); \draw[rl] (mdm2b) -- (p27a);
\draw[rl] (pten11) -- (rskN); \draw[rl] (kB) -- (pten1); \draw[rl] (pras40a) -- (L1); \draw[rl] (mdmN2) -- (xl2); \draw[rl] (akt1b) -- (xr2);
\draw[rl] (racT) -- (xt3); \draw[rl] (kF) -- (akt1c); \draw[rl] (pten6) -- (akN); \draw[rl] (cdkZ) -- (kC10); \draw[rl] (tsc2a) -- (rheb1);
\draw[rl] (c9N) -- (casp9b); \draw[rl] (ubiq) -- (kM); \draw[rl] (cdk1) -- (rac1c); \draw[rl] (p27c) -- (kC11);
\draw[rl] (akt1c) -- (pten8); \draw[rl] (akt1b) -- (sgk4); \draw[rl] (akt1c) -- (kK); \draw[rl] (phl2) -- (akN); \draw[rl] (pten4) -- (akt1a);
\draw[rl] (kL) -- (kCul4); \draw[rl] (rsk1) -- (kH1); \draw[rl] (qH) -- (rskN); \draw[rl] (pten9) -- (p70a); \draw[rl] (pras40a) -- (mtorL3);
\draw[rl] (mtorL2) -- (kC11); \draw[rl] (kC10) -- (mtorL2); \draw[rl] (sgk4) -- (xb5); \draw[rl] (kX) -- (xb6); \draw[rl] (xt4) -- (akt1c);
\draw[rl] (xt5) -- (ship2); \draw[rl] (kN) -- (casp3); \draw[rl] (rac1c) -- (L1);
% green
\draw[grn] (pten1) -- (pten1|-xg1) -- (xg1) -- (pten4);
\draw[grn] (kT5) -- (xg2); \draw[grn] (tsc1c) -- (xg4); \draw[grn] (rheb1) -- (xg3); \draw[grn] (L7) -- (L8);
% blue
\draw[blu] (akF) -- (xt2); \draw[blu] (pten1) -- (kF);
\draw[blu] (rheb2) -- (xbl1) -- (xbl2) -- (xbl3);
\end{pgfonlayer}
% frame
\fill[black] (22,638) rectangle (876,641);
\draw[black,line width=2pt] (22,0) -- (22,641);
\draw[black,line width=1.5pt] (22,4) -- (876,4);
\draw[black,line width=1.2pt] (xd1) -- (xd2);
\draw[black,line width=1pt] (xd3) -- (xd4);
\end{tikzpicture}
\end{document}
